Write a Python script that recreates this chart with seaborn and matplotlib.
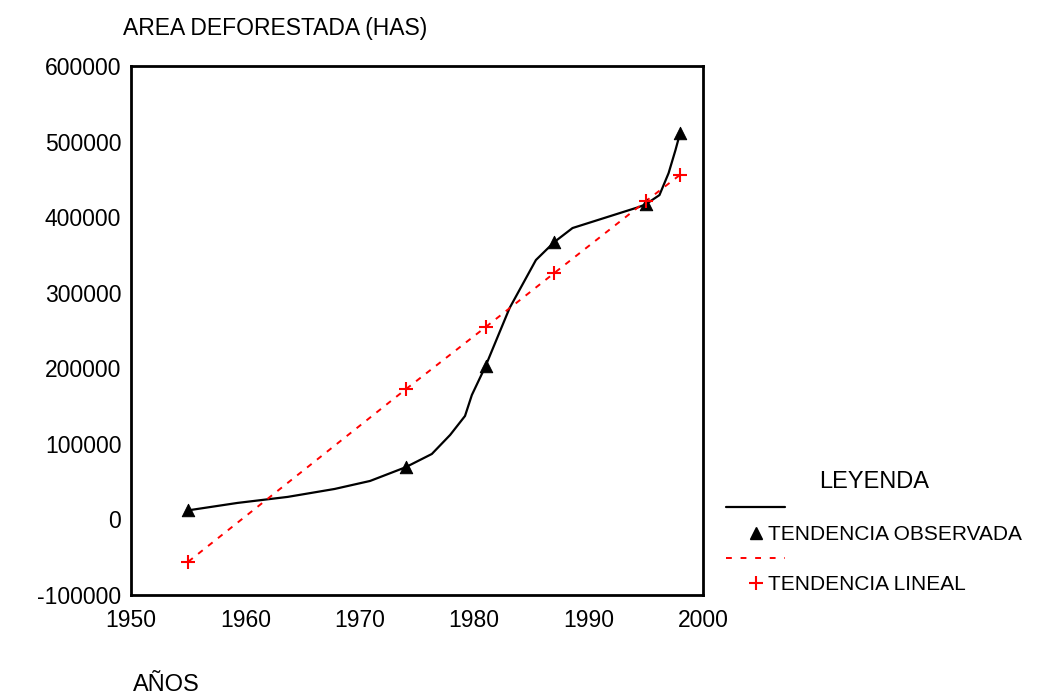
import pandas as pd
import matplotlib
matplotlib.use("Agg")
import matplotlib.pyplot as plt
import seaborn as sns
from matplotlib.lines import Line2D

# observed points (triangles)
obs_years = [1955, 1974, 1981, 1987, 1995, 1998]
obs_area = [12000, 69000, 203000, 367000, 417000, 511000]

curve_years = [1955, 1959.3, 1963.7, 1967.8, 1970.9, 1974, 1976.3, 1977.9, 1979.2,
               1979.8, 1981, 1982.3, 1983.1, 1985.4, 1987, 1988.6, 1994.4, 1995,
               1996.2, 1997, 1997.6, 1998]
curve_area = [12000, 21800, 29800, 40300, 50900, 69000, 86600, 111800, 136900,
              164700, 203000, 250600, 279800, 343300, 367000, 385600, 413400, 417000,
              429200, 458300, 488700, 511000]

# linear trend
lin_area = [-56000, 172000, 254500, 326000, 421000, 456000]

sns.set_style("white")
plt.rcParams['font.family'] = ['Liberation Sans', 'DejaVu Sans']
plt.rcParams['axes.unicode_minus'] = False
plt.rcParams['text.color'] = 'black'

obs = pd.DataFrame({'year': obs_years, 'area': obs_area, 'lineal': lin_area})
curve = pd.DataFrame({'year': curve_years, 'area': curve_area})

fig = plt.figure(figsize=(10.61, 6.98), dpi=100)
ax = fig.add_axes([0.1235, 0.1476, 0.539, 0.7578])

sns.lineplot(data=curve, x='year', y='area', sort=False, estimator=None,
             color='black', linewidth=1.6, ax=ax)
sns.scatterplot(data=obs, x='year', y='area', marker='^', s=80,
                color='black', edgecolor='black', ax=ax, zorder=4)
sns.lineplot(data=obs, x='year', y='lineal', sort=False, estimator=None,
             color='red', linewidth=1.4, dashes=False, ax=ax)
ax.lines[-1].set_dashes((3, 3.5))
sns.scatterplot(data=obs, x='year', y='lineal', marker='+', s=110,
                color='red', linewidth=1.5, ax=ax, zorder=4)

ax.set_xlim(1950, 2000)
ax.set_ylim(-100000, 600000)
ax.set_xticks(range(1950, 2001, 10))
ax.set_yticks(range(-100000, 600001, 100000))
ax.set_xlabel('')
ax.set_ylabel('')
for s in ax.spines.values():
    s.set_linewidth(2)
    s.set_color('black')
ax.tick_params(axis='both', direction='out', length=3, width=2,
               labelsize=16.5, colors='black')
ax.tick_params(axis='x', pad=7)
ax.tick_params(axis='y', pad=4)

fig.text(123 / 1061, 1 - 28 / 698, 'AREA DEFORESTADA (HAS)', fontsize=16.5,
         ha='left', va='center', color='black')
fig.text(133 / 1061, 1 - 685 / 698, 'AÑOS', fontsize=17, ha='left', va='center',
         color='black')

handles = [
    Line2D([], [], color='black', linewidth=1.6),
    Line2D([], [], color='black', marker='^', linestyle='none', markersize=8),
    Line2D([], [], color='red', linewidth=1.4, dashes=(3, 4.5)),
    Line2D([], [], color='red', marker='+', linestyle='none', markersize=10,
           markeredgewidth=1.5),
]
labels = ['', 'TENDENCIA OBSERVADA', '', 'TENDENCIA LINEAL']
leg = ax.legend(handles, labels, title='LEYENDA', frameon=False,
                loc='upper left', bbox_to_anchor=(718 / 1061, 1 - 463 / 698),
                bbox_transform=fig.transFigure, fontsize=15, title_fontsize=17,
                handlelength=2.8, handletextpad=-0.8, labelspacing=0.3,
                borderaxespad=0)
for t in leg.get_texts():
    t.set_color('black')
leg.get_title().set_color('black')

fig.savefig('out.png', dpi=100)
